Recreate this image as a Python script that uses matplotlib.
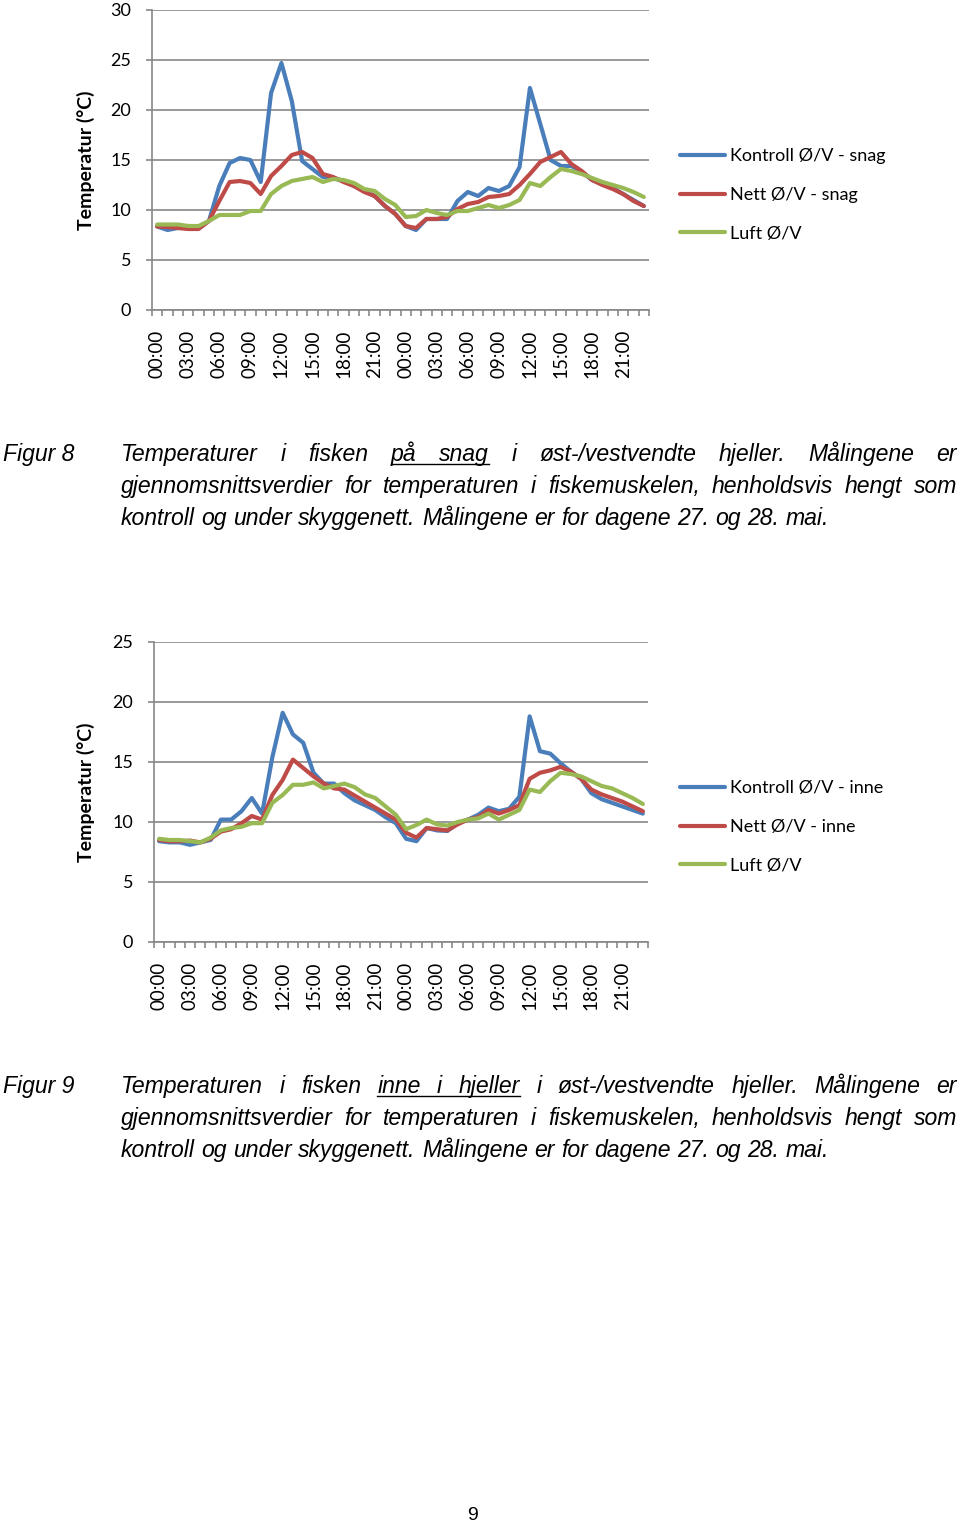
import numpy as np
import matplotlib
matplotlib.use("Agg")
import matplotlib.pyplot as plt
from matplotlib.lines import Line2D

plt.rcParams.update({
    "font.family": ["Lato", "DejaVu Sans"],
    "font.size": 12,
})

W, H = 960, 1523

# hourly categories, two days (27. and 28. mai)
hours = [f"{h:02d}:00" for h in range(24)] * 2
tick_idx = list(range(0, 48, 3))

# Figur 8 - paa snag
kontroll_snag = [8.35, 8.0, 8.2, 8.2, 8.2, 8.9, 12.4, 14.7, 15.2, 15.0, 12.8, 21.7,
                 24.7, 20.9, 14.9, 14.1, 13.3, 13.2, 12.9, 12.4, 11.9, 11.4, 10.4, 9.6,
                 8.4, 8.0, 9.1, 9.1, 9.1, 10.9, 11.8, 11.4, 12.2, 11.9, 12.4, 14.3,
                 22.2, 18.6, 15.0, 14.4, 14.4, 13.8, 13.0, 12.6, 12.2, 11.6, 11.0, 10.4]
nett_snag = [8.35, 8.3, 8.2, 8.1, 8.1, 8.9, 10.9, 12.8, 12.9, 12.7, 11.6, 13.4,
             14.4, 15.5, 15.8, 15.2, 13.6, 13.3, 12.8, 12.4, 11.8, 11.4, 10.4, 9.6,
             8.4, 8.2, 9.1, 9.1, 9.3, 10.1, 10.6, 10.8, 11.3, 11.4, 11.6, 12.5,
             13.6, 14.8, 15.3, 15.8, 14.6, 13.9, 13.0, 12.5, 12.1, 11.6, 10.9, 10.4]
luft_1 = [8.55, 8.55, 8.55, 8.4, 8.4, 8.9, 9.5, 9.5, 9.5, 9.9, 9.9, 11.6,
          12.4, 12.9, 13.1, 13.3, 12.8, 13.1, 13.0, 12.7, 12.1, 11.9, 11.1, 10.5,
          9.3, 9.4, 10.0, 9.7, 9.5, 9.9, 9.9, 10.2, 10.5, 10.2, 10.5, 11.0,
          12.7, 12.4, 13.3, 14.1, 13.9, 13.6, 13.2, 12.8, 12.5, 12.2, 11.8, 11.3]

# Figur 9 - inne i hjeller
kontroll_inne = [8.4, 8.3, 8.3, 8.1, 8.3, 8.5, 10.2, 10.2, 10.9, 12.0, 10.7, 15.4,
                 19.1, 17.3, 16.6, 14.1, 13.2, 13.2, 12.4, 11.8, 11.4, 11.0, 10.4, 9.9,
                 8.6, 8.4, 9.5, 9.3, 9.25, 9.9, 10.2, 10.6, 11.2, 10.9, 11.1, 12.1,
                 18.8, 15.9, 15.7, 14.9, 14.2, 13.6, 12.4, 11.9, 11.6, 11.3, 11.0, 10.7]
nett_inne = [8.5, 8.4, 8.4, 8.45, 8.3, 8.6, 9.2, 9.4, 9.9, 10.5, 10.2, 12.25,
             13.5, 15.2, 14.5, 13.8, 13.2, 12.8, 12.7, 12.2, 11.7, 11.2, 10.7, 10.2,
             9.1, 8.7, 9.5, 9.4, 9.3, 9.8, 10.2, 10.4, 11.0, 10.7, 11.0, 11.4,
             13.6, 14.1, 14.3, 14.6, 14.2, 13.6, 12.7, 12.3, 12.0, 11.7, 11.3, 10.9]
luft_2 = [8.6, 8.5, 8.5, 8.4, 8.3, 8.7, 9.3, 9.5, 9.6, 9.9, 9.9, 11.6,
          12.25, 13.1, 13.1, 13.3, 12.8, 13.0, 13.2, 12.9, 12.3, 12.0, 11.3, 10.6,
          9.4, 9.75, 10.2, 9.8, 9.7, 10.0, 10.2, 10.3, 10.7, 10.2, 10.6, 11.0,
          12.7, 12.5, 13.4, 14.1, 14.0, 13.8, 13.4, 13.0, 12.8, 12.4, 12.0, 11.5]

labels_1 = ["Kontroll Ø/V - snag", "Nett Ø/V - snag", "Luft Ø/V"]
labels_2 = ["Kontroll Ø/V - inne", "Nett Ø/V - inne", "Luft Ø/V"]
colors = ["#4A7EBB", "#BE4B48", "#98B954"]
grid_c = "#878787"

fig = plt.figure(figsize=(W / 100, H / 100), dpi=100)


def px(x0, y_top, x1, y_bot):
    return [x0 / W, 1 - y_bot / H, (x1 - x0) / W, (y_bot - y_top) / H]


def chart(rect, series, labels, ymax, leg_y):
    ax = fig.add_axes(rect)
    x = np.arange(48)
    for s, c, lab in zip(series, colors, labels):
        ax.plot(x, s, color=c, lw=3.0, label=lab, solid_capstyle="round", zorder=3)
    ax.set_xlim(-0.5, 47.5)
    ax.set_ylim(0, ymax)
    ax.set_yticks(np.arange(0, ymax + 1, 5))
    ax.yaxis.grid(True, color=grid_c, lw=1.2)
    ax.set_axisbelow(True)
    for sp in ["top", "right"]:
        ax.spines[sp].set_visible(False)
    for sp in ["left", "bottom"]:
        ax.spines[sp].set_color(grid_c)
        ax.spines[sp].set_linewidth(1.2)
    ax.set_xticks(tick_idx)
    ax.set_xticklabels([hours[i] for i in tick_idx], rotation=90, fontsize=13.5)
    ax.set_xticks(np.arange(-0.5, 48, 1), minor=True)
    ax.tick_params(axis="x", which="major", length=0, pad=14)
    ax.tick_params(axis="x", which="minor", length=4, width=1.2, color=grid_c)
    ax.tick_params(axis="y", length=4, width=1.2, color=grid_c, pad=11, labelsize=13)
    fig.text(86 / W, rect[1] + rect[3] / 2, "Temperatur (°C)", rotation=90,
             ha="center", va="center", fontsize=14, fontweight="bold")
    ax.legend(loc="center left", bbox_to_anchor=(680 / W, 1 - leg_y / H),
              bbox_transform=fig.transFigure, frameon=False, fontsize=13,
              borderpad=0, borderaxespad=0, handlelength=2.5, handletextpad=0.25,
              labelspacing=1.25)
    return ax


chart(px(152, 10, 649, 310), [kontroll_snag, nett_snag, luft_1], labels_1, 30, 195)
chart(px(154, 642, 648, 942), [kontroll_inne, nett_inne, luft_2], labels_2, 25, 827)

# captions
cap_font = dict(family=["Liberation Sans", "DejaVu Sans"], style="italic", fontsize=16.6)
renderer = fig.canvas.get_renderer()


def word_width(w):
    t = fig.text(0, 0, w, **cap_font)
    bb = t.get_window_extent(renderer=renderer)
    t.remove()
    return bb.width


def caption_line(words, base_y, justify, underline=()):
    x0, x1 = 121, 957
    widths = [word_width(w) for w in words]
    if justify and len(words) > 1:
        gap = (x1 - x0 - sum(widths)) / (len(words) - 1)
    else:
        gap = word_width("a a") - 2 * word_width("a")
    x = x0
    pos = []
    for w, wd in zip(words, widths):
        fig.text(x / W, 1 - base_y / H, w, ha="left", va="baseline", **cap_font)
        pos.append((x, x + wd))
        x += wd + gap
    if underline:
        a, b = underline
        fig.add_artist(Line2D([pos[a][0] / W, pos[b][1] / W],
                              [1 - (base_y + 3) / H] * 2, color="black", lw=1.0))


cap8 = ["Temperaturer", "i", "fisken", "på", "snag", "i", "øst-/vestvendte", "hjeller.", "Målingene", "er"]
cap9 = ["Temperaturen", "i", "fisken", "inne", "i", "hjeller", "i", "øst-/vestvendte", "hjeller.", "Målingene", "er"]
line2 = "gjennomsnittsverdier for temperaturen i fiskemuskelen, henholdsvis hengt som".split()
line3 = "kontroll og under skyggenett. Målingene er for dagene 27. og 28. mai.".split()

fig.text(3 / W, 1 - 461 / H, "Figur 8", ha="left", va="baseline", **cap_font)
caption_line(cap8, 461, True, underline=(3, 4))
caption_line(line2, 493, True)
caption_line(line3, 525, False)

fig.text(3 / W, 1 - 1093 / H, "Figur 9", ha="left", va="baseline", **cap_font)
caption_line(cap9, 1093, True, underline=(3, 5))
caption_line(line2, 1125, True)
caption_line(line3, 1157, False)

fig.text(472 / W, 1 - 1515 / H, "9", ha="center", va="center",
         family=["Liberation Sans", "DejaVu Sans"], fontsize=14)

fig.savefig("out.png", dpi=100)
plt.close(fig)
